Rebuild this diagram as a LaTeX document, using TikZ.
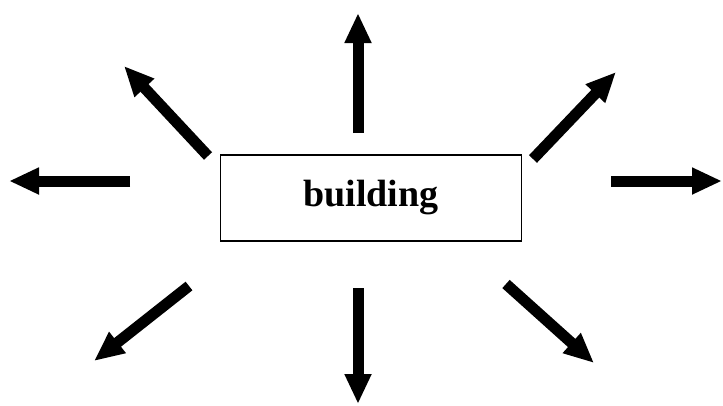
\documentclass[tikz,border=0pt]{standalone}
\usepackage{fontspec}
\setmainfont{Liberation Serif}
\usetikzlibrary{arrows.meta}
\begin{document}
\begin{tikzpicture}[x=1pt,y=-1pt,
  box/.style={draw=black,line width=1.4pt,minimum width=301pt,minimum height=86pt,inner sep=0pt,
    font=\fontsize{38}{44}\selectfont\bfseries},
  ray/.style={line width=11pt,-{Triangle[length=30pt,width=25pt]}}]
\useasboundingbox (0,0) rectangle (723,405);
\node[box] (b) at (371,198) {building};
% tails and tips of the rays
\coordinate (nT) at (358,133); \coordinate (nH) at (358,13);
\coordinate (sT) at (358,288); \coordinate (sH) at (358,404);
\coordinate (wT) at (130,181); \coordinate (wH) at (9,181);
\coordinate (eT) at (611,181); \coordinate (eH) at (722,181);
\coordinate (nwT) at (208,156); \coordinate (nwH) at (124,66);
\coordinate (neT) at (533,159); \coordinate (neH) at (616,72);
\coordinate (swT) at (189,286); \coordinate (swH) at (94,361);
\coordinate (seT) at (506,284); \coordinate (seH) at (594,363);
\foreach \d in {n,s,w,e,nw,ne,sw,se}
  \draw[ray] (\d T) -- (\d H);
\end{tikzpicture}
\end{document}
